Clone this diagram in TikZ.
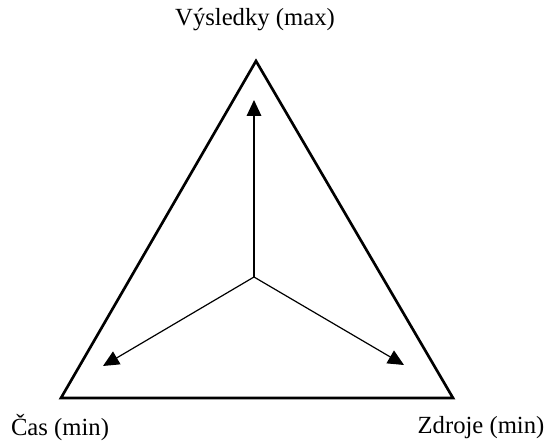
\documentclass[tikz,border=0pt]{standalone}
\usepackage{fontspec}
\setmainfont{Liberation Serif}
\usetikzlibrary{arrows.meta, positioning}

\tikzset{
    side/.style={line width=2pt, line join=miter},
    goal/.style={line width=0.9pt, -{Triangle[length=12pt, width=11pt]}},
    lbl/.style={font=\fontsize{18.5}{21}\selectfont, inner sep=0pt}
}

\begin{document}
\begin{tikzpicture}[x=0.75pt, y=-0.75pt]
    \useasboundingbox (0,0) rectangle (547,441);
    % triangle corners
    \coordinate (top) at (256,61);
    \coordinate (left) at (61,398);
    \coordinate (right) at (453,398);
    \draw[side] (top) -- (left) -- (right) -- cycle;

    % arrows from the middle
    \coordinate (mid) at (254,277);
    \coordinate (up) at (254,100);
    \coordinate (dl) at (103,366);
    \coordinate (dr) at (404,365);
    \draw[goal] (mid) -- (up);
    \draw[goal] (mid) -- (dl);
    \draw[goal] (mid) -- (dr);

    \node[lbl] (vysl) at (255,20) {Výsledky (max)};
    \node[lbl] (cas) at (60,428) {Čas (min)};
    \node[lbl] (zdroje) at (481,428) {Zdroje (min)};
\end{tikzpicture}
\end{document}
